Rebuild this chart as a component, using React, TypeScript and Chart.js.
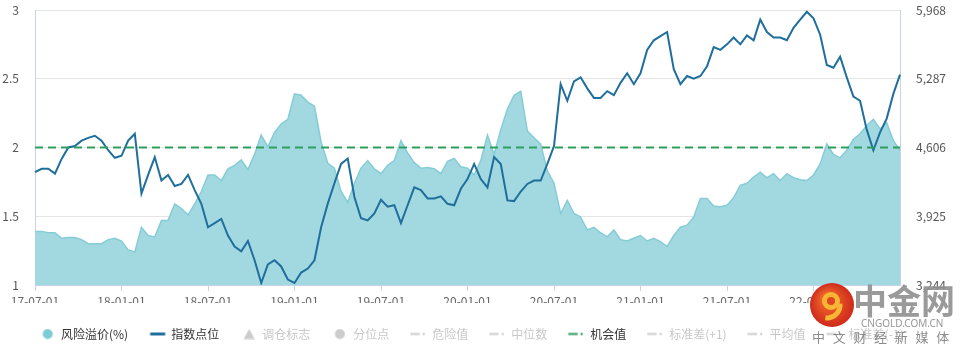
import React, { useEffect, useRef } from 'react';
import { Chart, registerables } from 'chart.js';

Chart.register(...registerables);

const FONT = '"Noto Sans CJK SC", "Noto Sans", sans-serif';

// tick labels shown every TICK_EVERY categories (half a year of biweekly points)
const tickLabels = ['17-07-01', '18-01-01', '18-07-01', '19-01-01', '19-07-01', '20-01-01', '20-07-01', '21-01-01', '21-07-01', '22-01-01'];
const TICK_EVERY = 13;

// 风险溢价(%) – left axis
const riskPremium = [
  1.39, 1.39, 1.38, 1.38, 1.34, 1.345, 1.345, 1.33, 1.30, 1.30,
  1.30, 1.33, 1.34, 1.32, 1.255, 1.24, 1.42, 1.36, 1.35, 1.47,
  1.47, 1.59, 1.556, 1.51, 1.59, 1.68, 1.80, 1.80, 1.76, 1.845,
  1.87, 1.91, 1.84, 1.95, 2.09, 2.005, 2.11, 2.17, 2.205, 2.39,
  2.38, 2.33, 2.30, 2.04, 1.885, 1.85, 1.68, 1.60, 1.74, 1.85,
  1.905, 1.845, 1.81, 1.87, 1.905, 2.05, 1.96, 1.89, 1.85, 1.855,
  1.845, 1.81, 1.90, 1.92, 1.86, 1.85, 1.80, 1.905, 2.09, 1.95,
  2.13, 2.28, 2.38, 2.41, 2.12, 2.07, 2.025, 1.83, 1.74, 1.52,
  1.615, 1.52, 1.495, 1.40, 1.42, 1.38, 1.35, 1.40, 1.33, 1.32,
  1.34, 1.36, 1.32, 1.34, 1.315, 1.28, 1.36, 1.42, 1.435, 1.495,
  1.63, 1.63, 1.575, 1.57, 1.58, 1.635, 1.725, 1.74, 1.785, 1.82,
  1.78, 1.81, 1.76, 1.81, 1.78, 1.765, 1.76, 1.80, 1.88, 2.025,
  1.95, 1.925, 1.98, 2.06, 2.10, 2.16, 2.205, 2.135, 2.18, 2.05,
  1.98,
];

// 指数点位 – right axis
const indexPoints = [
  4361, 4395, 4395, 4347, 4493, 4606, 4620, 4674, 4701, 4722,
  4674, 4579, 4504, 4524, 4674, 4742, 4150, 4334, 4511, 4279,
  4334, 4225, 4246, 4334, 4184, 4048, 3816, 3857, 3898, 3734,
  3625, 3578, 3680, 3489, 3264, 3448, 3489, 3428, 3298, 3264,
  3367, 3407, 3489, 3816, 4050, 4252, 4443, 4497, 4116, 3905,
  3884, 3952, 4088, 4020, 4034, 3857, 4034, 4211, 4184, 4102,
  4102, 4122, 4048, 4034, 4197, 4293, 4443, 4293, 4211, 4511,
  4443, 4082, 4075, 4170, 4245, 4279, 4279, 4443, 4620, 5233,
  5069, 5260, 5301, 5192, 5097, 5097, 5164, 5124, 5246, 5341,
  5233, 5341, 5573, 5668, 5709, 5750, 5382, 5233, 5314, 5287,
  5314, 5410, 5600, 5573, 5628, 5696, 5628, 5716, 5668, 5873,
  5750, 5696, 5696, 5668, 5791, 5873, 5950, 5886, 5723, 5423,
  5396, 5505, 5301, 5110, 5069, 4783, 4579, 4756, 4892, 5137,
  5328,
];

// 机会值 threshold
const opportunityValue = 2;

const leftMin = 1;
const leftMax = 3;
const leftStep = 0.5;
const rightMin = 3244;
const rightMax = 5968;
const rightStep = 681;

const categories = riskPremium.map((_, i) => {
  const d = new Date(Date.UTC(2017, 6, 1) + i * 14 * 86400000);
  const p = (n: number) => String(n).padStart(2, '0');
  return `${String(d.getUTCFullYear()).slice(2)}-${p(d.getUTCMonth() + 1)}-${p(d.getUTCDate())}`;
});

const COLORS = {
  areaFill: '#a2d9e0',
  areaLine: '#86ccd6',
  legendCircle: '#7ccbd5',
  index: '#1f6e9c',
  opportunity: '#2e9e5e',
  inactive: '#cccccc',
  axis: '#c6d4ea',
  grid: '#e4e4e4',
};

const legendDefs = [
  { text: '风险溢价(%)', icon: 'circle', color: COLORS.legendCircle, active: true },
  { text: '指数点位', icon: 'line', color: COLORS.index, active: true },
  { text: '调仓标志', icon: 'triangle', color: COLORS.inactive, active: false },
  { text: '分位点', icon: 'circle', color: COLORS.inactive, active: false },
  { text: '危险值', icon: 'dashdot', color: COLORS.inactive, active: false },
  { text: '中位数', icon: 'dashdot', color: COLORS.inactive, active: false },
  { text: '机会值', icon: 'dashdot', color: COLORS.opportunity, active: true },
  { text: '标准差(+1)', icon: 'dashdot', color: COLORS.inactive, active: false },
  { text: '平均值', icon: 'dashdot', color: COLORS.inactive, active: false },
  { text: '标准差(-1)', icon: 'dashdot', color: COLORS.inactive, active: false },
];

function makeIcon(kind: string, color: string): HTMLCanvasElement {
  const c = document.createElement('canvas');
  c.width = 21;
  c.height = 11;
  const g = c.getContext('2d')!;
  g.fillStyle = color;
  if (kind === 'circle') {
    g.beginPath();
    g.arc(9.2, 5.5, 5, 0, Math.PI * 2);
    g.fill();
  } else if (kind === 'triangle') {
    g.beginPath();
    g.moveTo(9.5, 0.5);
    g.lineTo(15, 10.5);
    g.lineTo(4, 10.5);
    g.closePath();
    g.fill();
  } else if (kind === 'line') {
    g.fillRect(1.5, 4, 15, 3);
  } else {
    g.fillRect(0.5, 4.5, 9.5, 2);
    g.beginPath();
    g.arc(14, 5.5, 1.2, 0, Math.PI * 2);
    g.fill();
  }
  return c;
}

const legendShift = {
  id: 'legendShift',
  beforeDraw(chart: any) {
    if (chart.legend) chart.legend.left = 18;
  },
};

const watermark = {
  id: 'watermark',
  afterDraw(chart: any) {
    const ctx = chart.ctx as CanvasRenderingContext2D;
    ctx.save();
    const cx = 832;
    const cy = 305;
    const r = 22;
    const grad = ctx.createRadialGradient(cx - 6, cy - 8, 2, cx, cy, r);
    grad.addColorStop(0, '#f4702c');
    grad.addColorStop(1, '#cf2a1c');
    ctx.fillStyle = grad;
    ctx.beginPath();
    ctx.arc(cx, cy, r, 0, Math.PI * 2);
    ctx.fill();
    ctx.fillStyle = '#f8b634';
    ctx.beginPath();
    ctx.arc(cx - 1, cy - 4, 9, 0, Math.PI * 2);
    ctx.fill();
    ctx.fillStyle = '#e0461f';
    ctx.beginPath();
    ctx.arc(cx - 1, cy - 4, 4, 0, Math.PI * 2);
    ctx.fill();
    ctx.strokeStyle = '#f8b634';
    ctx.lineWidth = 5;
    ctx.beginPath();
    ctx.arc(cx - 5, cy, 13, -0.1, 1.7);
    ctx.stroke();

    ctx.textBaseline = 'middle';
    ctx.textAlign = 'left';
    ctx.fillStyle = 'rgba(145,145,145,0.92)';
    ctx.font = `bold 34px ${FONT}`;
    ctx.fillText('中金网', 853, 301);
    ctx.font = '10px "Noto Sans", sans-serif';
    ctx.fillStyle = 'rgba(140,140,140,0.9)';
    ctx.fillText('CNGOLD.COM.CN', 861, 324);
    ctx.font = `13px ${FONT}`;
    ctx.fillStyle = 'rgba(120,120,120,0.85)';
    '中文财经新媒体'.split('').forEach((ch, k) => ctx.fillText(ch, 812 + k * 20.7, 337));
    ctx.restore();
  },
};

export default function App() {
  const ref = useRef<HTMLCanvasElement>(null);

  useEffect(() => {
    document.body.style.margin = '0';
    const canvas = ref.current;
    if (!canvas) return;
    const icons = legendDefs.map((d) => makeIcon(d.icon, d.color));

    const chart = new Chart(canvas, {
      type: 'line',
      data: {
        labels: categories,
        datasets: [
          {
            label: '机会值',
            data: categories.map(() => opportunityValue),
            yAxisID: 'y',
            borderColor: COLORS.opportunity,
            borderWidth: 2,
            borderDash: [8, 5],
            pointRadius: 0,
            fill: false,
            order: 0,
          },
          {
            label: '指数点位',
            data: indexPoints,
            yAxisID: 'y2',
            borderColor: COLORS.index,
            borderWidth: 2,
            pointRadius: 0,
            tension: 0,
            fill: false,
            order: 1,
          },
          {
            label: '风险溢价(%)',
            data: riskPremium,
            yAxisID: 'y',
            borderColor: COLORS.areaLine,
            backgroundColor: COLORS.areaFill,
            borderWidth: 1.5,
            pointRadius: 0,
            tension: 0,
            fill: 'start',
            order: 2,
          },
        ],
      },
      options: {
        animation: false,
        responsive: false,
        layout: { padding: { left: 0, right: 0, top: 10, bottom: 5 } },
        font: { family: FONT },
        plugins: {
          tooltip: { enabled: false },
          legend: {
            position: 'bottom',
            align: 'start',
            onClick: () => {},
            labels: {
              usePointStyle: true,
              padding: 25,
              font: { size: 12, family: FONT },
              generateLabels: () =>
                legendDefs.map((d, i) => ({
                  text: d.text,
                  pointStyle: icons[i],
                  fillStyle: d.color,
                  strokeStyle: d.color,
                  lineWidth: 0,
                  hidden: false,
                  fontColor: d.active ? '#333333' : '#c8c8c8',
                  datasetIndex: i,
                })),
            },
          },
        },
        scales: {
          x: {
            type: 'category',
            offset: false,
            grid: { display: true, drawOnChartArea: false, drawTicks: true, tickLength: 6, color: COLORS.axis },
            border: { color: COLORS.axis },
            ticks: {
              autoSkip: false,
              maxRotation: 0,
              padding: 3,
              color: '#666666',
              font: { size: 12, family: FONT },
              callback: (_v: any, i: number) => (i % TICK_EVERY === 0 ? tickLabels[i / TICK_EVERY] ?? null : null),
            },
            afterFit: (s: any) => {
              s.height = 18;
              s.paddingLeft = 0;
              s.paddingRight = 0;
            },
          },
          y: {
            position: 'left',
            min: leftMin,
            max: leftMax,
            ticks: {
              stepSize: leftStep,
              padding: 16,
              color: '#555555',
              font: { size: 12, family: FONT },
              callback: (v: any) => String(Number(v)),
            },
            grid: { color: COLORS.grid, drawTicks: false },
            border: { color: COLORS.axis },
            afterFit: (s: any) => {
              s.width = 35;
              s.paddingTop = 0;
              s.paddingBottom = 0;
            },
          },
          y2: {
            position: 'right',
            min: rightMin,
            max: rightMax,
            ticks: {
              stepSize: rightStep,
              padding: 16,
              color: '#555555',
              font: { size: 12, family: FONT },
              callback: (v: any) => Number(v).toLocaleString('en-US'),
            },
            grid: { drawOnChartArea: false, drawTicks: false },
            border: { color: COLORS.axis },
            afterFit: (s: any) => {
              s.width = 66;
              s.paddingTop = 0;
              s.paddingBottom = 0;
            },
          },
        },
      } as any,
      plugins: [legendShift, watermark],
    });
    return () => chart.destroy();
  }, []);

  return <canvas ref={ref} width={966} height={355} style={{ display: 'block' }} />;
}
